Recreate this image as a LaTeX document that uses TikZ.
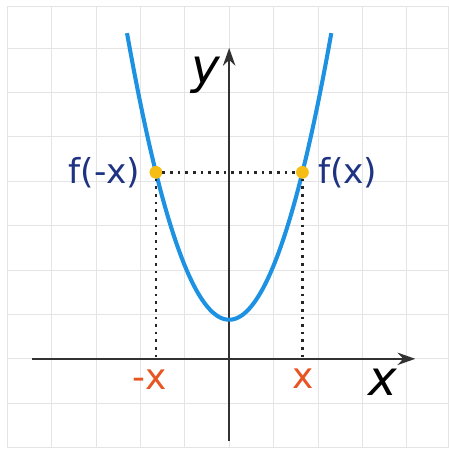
\documentclass[tikz,border=0pt]{standalone}
\usepackage{fontspec}
\setmainfont{DejaVu Sans}
\usepackage{xcolor}
\usetikzlibrary{arrows.meta,positioning}
\definecolor{curveblue}{RGB}{30,146,226}
\definecolor{dotyellow}{RGB}{246,190,20}
\definecolor{labelblue}{RGB}{30,52,130}
\definecolor{xorange}{RGB}{232,84,34}
\definecolor{axisgray}{RGB}{50,50,50}
\definecolor{gridgray}{RGB}{228,228,228}

\begin{document}
\begin{tikzpicture}[
      gridline/.style={draw=gridgray, line width=0.5pt},
      axis/.style={-{Stealth[length=4mm,width=2.8mm]}, line width=1.3pt, color=axisgray},
      curve/.style={line width=2.6pt, color=curveblue},
      dotline/.style={line width=1.7pt, dash pattern=on 1.7pt off 3.2pt, color=black!85},
      pt/.style={circle, fill=dotyellow, inner sep=0pt, minimum size=2.8mm},
      flabel/.style={font=\fontsize{22}{24}\selectfont, color=labelblue},
      xlabel/.style={font=\fontsize{23}{24}\selectfont, color=xorange},
      axlabel/.style={font=\fontsize{31}{32}\selectfont\itshape, color=black}
    ]
      \useasboundingbox[fill=white] (-5.16,-2.03) rectangle (4.95,8.08);
      % grid
      \draw[gridline] (-5,-2) grid (4.93,7.93);
      \draw[gridline] (-5,-2) rectangle (4.93,7.93);
      % axes
      \coordinate (xL) at (-4.44,0);
      \coordinate (xR) at (4.19,0);
      \coordinate (yB) at (0,-1.85);
      \coordinate (yT) at (0,7.0);
      \draw[axis] (xL) -- (xR);
      \draw[axis] (yB) -- (yT);
      \node[axlabel] (ylab) at (-0.52,6.38) {y};
      \node[axlabel] (xlab) at (3.47,-0.52) {x};
      % parabola
      \draw[curve] plot[domain=-2.3:2.3, samples=80, smooth] (\x,{1.22*\x*\x+0.88});
      % symmetric points
      \node[pt] (PL) at (-1.65,4.20) {};
      \node[pt] (PR) at (1.65,4.20) {};
      \coordinate (footL) at (-1.65,0);
      \coordinate (footR) at (1.65,0);
      \draw[dotline] (PL) -- (PR);
      \draw[dotline] (PL) -- (footL);
      \draw[dotline] (PR) -- (footR);
      \node[pt] at (PL) {};
      \node[pt] at (PR) {};
      \node[flabel, left=0.08cm of PL] (fml) {f(-x)};
      \node[flabel, right=0.08cm of PR] (fpl) {f(x)};
      \node[xlabel] (mx) at (-1.80,-0.47) {-x};
      \node[xlabel] (px) at (1.67,-0.45) {x};
    \end{tikzpicture}
\end{document}
